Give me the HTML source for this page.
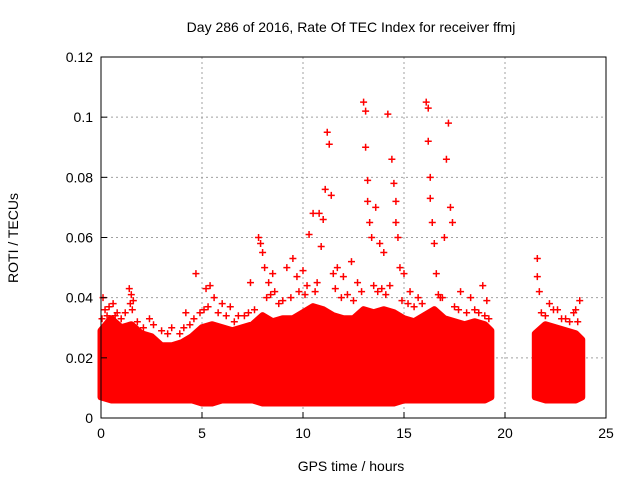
<!DOCTYPE html>
<html><head><meta charset="utf-8"><style>
body{margin:0;background:#fff;width:640px;height:480px;overflow:hidden}
svg text{font-family:"Liberation Sans","DejaVu Sans",sans-serif;font-size:14px;fill:#000}
</style></head><body>
<svg id="chart" width="640" height="480">
<text x="351" y="32" text-anchor="middle">Day 286 of 2016, Rate Of TEC Index for receiver ffmj</text>
<text x="351" y="471" text-anchor="middle">GPS time / hours</text>
<text transform="translate(18,238) rotate(-90)" text-anchor="middle">ROTI / TECUs</text>
<g id="grid"></g><g id="band"></g><g id="marks"></g><g id="axes"></g>
</svg>
<script>
const xTicks=[0,5,10,15,20,25];
const yTicks=[0,0.02,0.04,0.06,0.08,0.1,0.12];
const yTickLabels=["0","0.02","0.04","0.06","0.08","0.1","0.12"];
// dense band envelope: [hour, low, high]
const bandSeg1=[[0,0.007,0.029],[0.5,0.006,0.033],[1,0.006,0.030],[1.5,0.006,0.031],[2,0.006,0.028],[2.5,0.006,0.027],[3,0.006,0.024],[3.5,0.006,0.024],[4,0.006,0.025],[4.5,0.006,0.027],[5,0.005,0.030],[5.5,0.005,0.031],[6,0.006,0.030],[6.5,0.006,0.029],[7,0.006,0.030],[7.5,0.006,0.031],[8,0.005,0.034],[8.5,0.005,0.032],[9,0.005,0.033],[9.5,0.005,0.033],[10,0.005,0.035],[10.5,0.005,0.037],[11,0.005,0.036],[11.5,0.005,0.034],[12,0.005,0.033],[12.5,0.005,0.033],[13,0.005,0.036],[13.5,0.005,0.035],[14,0.005,0.036],[14.5,0.005,0.035],[15,0.006,0.033],[15.5,0.006,0.032],[16,0.006,0.034],[16.5,0.006,0.036],[17,0.006,0.033],[17.5,0.006,0.032],[18,0.006,0.031],[18.5,0.006,0.032],[19,0.006,0.031],[19.3,0.007,0.029]];
const bandSeg2=[[21.5,0.007,0.028],[22,0.006,0.031],[22.5,0.006,0.030],[23,0.006,0.029],[23.5,0.006,0.028],[23.8,0.007,0.026]];
const outlierT=[0.1,0.2,0.3,0.6,0.8,1.4,1.5,1.6,2.4,3.5,4.2,4.7,5.2,5.4,5.6,6.0,6.4,6.8,7.4,7.8,7.9,8.0,8.1,8.3,8.5,8.6,9.2,9.5,9.7,10.0,10.3,10.5,10.8,10.9,11.0,11.1,11.2,11.3,11.4,11.5,11.7,12.0,12.4,12.7,13.0,13.1,13.1,13.2,13.2,13.3,13.4,13.6,13.8,14.0,14.2,14.4,14.5,14.6,14.6,14.7,14.8,15.0,15.3,15.7,16.1,16.2,16.2,16.3,16.3,16.4,16.5,16.6,16.8,17.0,17.1,17.2,17.3,17.4,17.8,18.3,18.9,19.1,21.6,21.6,21.7,22.2,22.6,23.0,23.5,23.7,
0.05,0.4,0.7,1.0,1.2,1.45,1.55,1.8,2.1,2.6,3.0,3.3,3.9,4.1,4.4,4.6,4.9,5.1,5.3,5.8,6.2,6.6,7.1,7.3,7.6,8.2,8.4,8.8,9.0,9.4,9.8,10.1,10.2,10.6,10.7,11.6,11.9,12.2,12.5,12.9,13.5,13.7,13.9,14.1,14.3,14.9,15.2,15.5,15.9,16.7,16.9,17.5,17.7,18.1,18.5,18.7,19.0,19.2,21.8,22.0,22.4,22.8,23.2,23.4,23.6];
const outlierV=[0.040,0.036,0.034,0.038,0.035,0.043,0.041,0.039,0.033,0.030,0.035,0.048,0.043,0.044,0.040,0.038,0.037,0.034,0.045,0.060,0.058,0.055,0.050,0.045,0.048,0.042,0.050,0.053,0.047,0.049,0.061,0.068,0.068,0.057,0.066,0.076,0.095,0.091,0.074,0.048,0.050,0.047,0.052,0.045,0.105,0.102,0.090,0.079,0.072,0.065,0.060,0.070,0.058,0.055,0.101,0.086,0.078,0.072,0.065,0.060,0.050,0.048,0.042,0.040,0.105,0.103,0.092,0.080,0.073,0.065,0.058,0.048,0.040,0.060,0.086,0.098,0.070,0.065,0.042,0.040,0.044,0.039,0.053,0.047,0.042,0.038,0.036,0.033,0.036,0.039,
0.033,0.037,0.034,0.033,0.035,0.038,0.036,0.032,0.030,0.031,0.029,0.028,0.028,0.030,0.031,0.033,0.035,0.036,0.037,0.035,0.034,0.032,0.034,0.035,0.036,0.040,0.041,0.038,0.039,0.040,0.042,0.041,0.044,0.042,0.045,0.043,0.040,0.041,0.039,0.042,0.044,0.042,0.043,0.041,0.044,0.039,0.038,0.037,0.038,0.041,0.040,0.037,0.036,0.035,0.036,0.035,0.034,0.033,0.035,0.034,0.036,0.033,0.032,0.035,0.032];
const L=101,R=606,T=57,B=418;
const xs=t=>L+(t/25)*(R-L), ys=v=>B-(v/0.12)*(B-T);
const NS="http://www.w3.org/2000/svg";
function mk(tag,parent,attrs){const e=document.createElementNS(NS,tag);for(const k in attrs)e.setAttribute(k,attrs[k]);document.getElementById(parent).appendChild(e);return e;}
xTicks.forEach(t=>{
 if(t>0&&t<25){const g=mk('line','grid',{x1:xs(t),x2:xs(t),y1:T,y2:B,stroke:'#a0a0a0','stroke-dasharray':'2,3'});
 
 }
 const k=mk('line','axes',{x1:xs(t),x2:xs(t),y1:B,y2:B-6,stroke:'#000'});
 
 
 const l=mk('text','axes',{x:xs(t),y:B+20,'text-anchor':'middle'});l.textContent=t;
 
 
});
yTicks.forEach((v,i)=>{
 if(v>0&&v<0.12){const g=mk('line','grid',{x1:L,x2:R,y1:ys(v),y2:ys(v),stroke:'#a0a0a0','stroke-dasharray':'2,3'});
 
 }
 const k=mk('line','axes',{x1:L,x2:L+6,y1:ys(v),y2:ys(v),stroke:'#000'});
 
 
 const l=mk('text','axes',{x:L-8,y:ys(v)+5,'text-anchor':'end'});l.textContent=yTickLabels[i];
 
 
});
const frame=mk('rect','axes',{x:L,y:T,width:R-L,height:B-T,fill:'none',stroke:'#000'});


[bandSeg1,bandSeg2].forEach(seg=>{
 const up=seg.map(p=>(xs(p[0]))+','+ys(p[2])).join(' ');
 const lo=seg.slice().reverse().map(p=>xs(p[0])+','+ys(p[1])).join(' ');
 const p=mk('polygon','band',{points:up+' '+lo,fill:'#ff0000',stroke:'#ff0000','stroke-width':7,'stroke-linejoin':'round'});
 
 
});
outlierT.forEach((t,i)=>{
 const x=xs(t),y=ys(outlierV[i]);
 const p=mk('path','marks',{d:`M${x-3.5},${y}h7M${x},${y-3.5}v7`,stroke:'#ff0000','stroke-width':1.5});
 
 
});
</script>
</body></html>
